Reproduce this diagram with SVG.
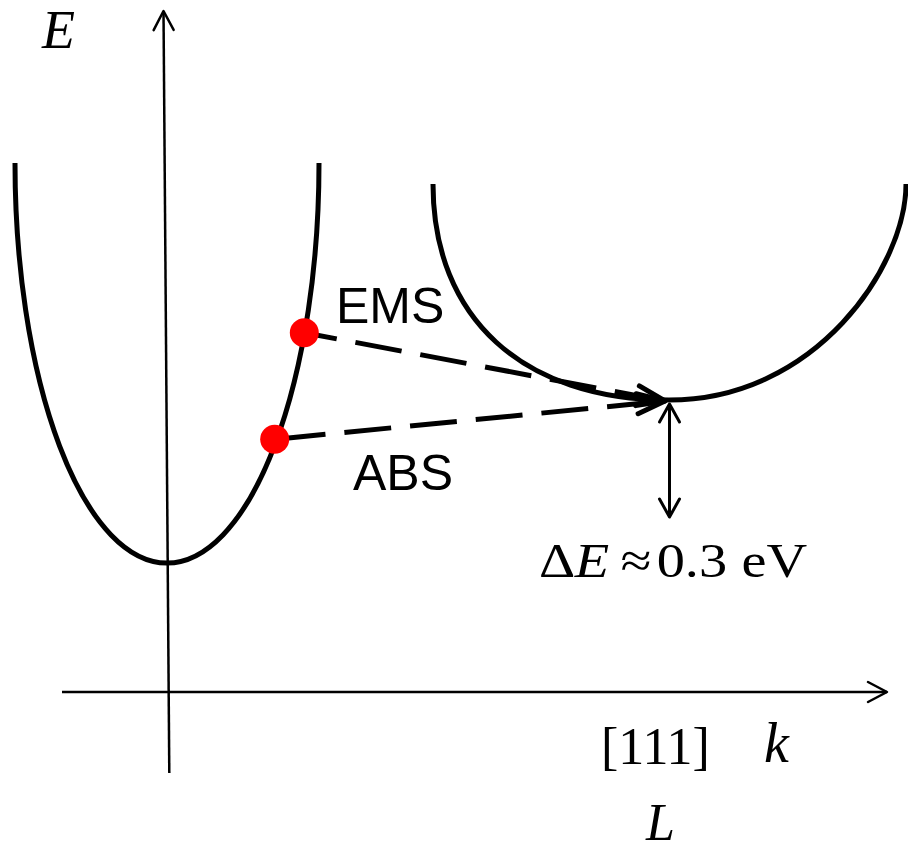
<svg xmlns="http://www.w3.org/2000/svg" width="908" height="852" viewBox="0 0 908 852">
  <style>
    .band { fill: none; stroke: #000; stroke-width: 5; }
    .axis { fill: none; stroke: #000; stroke-width: 2.5; }
    .trans { fill: none; stroke: #000; stroke-width: 5; stroke-dasharray: 47 19; }
    .gap { fill: none; stroke: #000; stroke-width: 3; }
    .dot { fill: #FF0000; }
    .math { font-family: "Liberation Serif", "Times New Roman", serif; fill: #000; }
    .it { font-style: italic; }
    .lbl { font-family: "Liberation Sans", Arial, sans-serif; font-size: 50px; fill: #000; }
  </style>
  <defs>
    <marker id="ah-axis" markerUnits="userSpaceOnUse" orient="auto" refX="0" refY="0" markerWidth="1" markerHeight="1" overflow="visible">
      <path d="M -19 -10 L 0 0 L -19 10" fill="none" stroke="#000" stroke-width="2.5" stroke-linecap="round" stroke-linejoin="round"/>
    </marker>
    <marker id="ah-trans" markerUnits="userSpaceOnUse" orient="auto" refX="0" refY="0" markerWidth="1" markerHeight="1" overflow="visible">
      <path d="M -28 -10 L 0 0 L -28 10" fill="none" stroke="#000" stroke-width="5" stroke-linecap="round" stroke-linejoin="round"/>
    </marker>
    <marker id="ah-gap" markerUnits="userSpaceOnUse" orient="auto-start-reverse" refX="0" refY="0" markerWidth="1" markerHeight="1" overflow="visible">
      <path d="M -18 -10 L 0 0 L -18 10" fill="none" stroke="#000" stroke-width="3" stroke-linecap="round" stroke-linejoin="round"/>
    </marker>
  </defs>

  <g id="axes">
    <line class="axis" x1="169.3" y1="773" x2="163.5" y2="11" marker-end="url(#ah-axis)"/>
    <line class="axis" x1="62" y1="692" x2="887" y2="692" marker-end="url(#ah-axis)"/>
  </g>

  <g id="band-gamma">
    <path class="band" d="M 15 163 A 152 400 0 0 0 319 163"/>
  </g>

  <g id="band-L">
    <path class="band" d="M 433 184 C 433 318 523 400 669 400 C 816 400 906 266 906 184"/>
  </g>

  <g id="connectors">
    <line id="ems-arrow" class="trans" style="stroke-dashoffset:14" x1="304.3" y1="332.7" x2="665" y2="401" marker-end="url(#ah-trans)"/>
    <line id="abs-arrow" class="trans" style="stroke-dashoffset:62" x1="274.7" y1="439.3" x2="665" y2="401" marker-end="url(#ah-trans)"/>
    <line id="gap-arrow" class="gap" x1="669.5" y1="404" x2="669.5" y2="517" marker-start="url(#ah-gap)" marker-end="url(#ah-gap)"/>
  </g>

  <g id="dot-ems">
    <circle class="dot" cx="304.3" cy="332.7" r="14.5"/>
  </g>
  <g id="dot-abs">
    <circle class="dot" cx="274.7" cy="439.3" r="14.5"/>
  </g>

  <g id="labels">
    <text class="math it" x="42" y="48" font-size="54">E</text>
    <text class="lbl" x="336" y="323">EMS</text>
    <text class="lbl" x="353" y="490">ABS</text>
    <text class="math" font-size="49" transform="translate(539,577) scale(1.15,1)"><tspan x="0">Δ</tspan><tspan x="31" class="it">E</tspan><tspan x="70.8">≈</tspan><tspan x="102.3">0.3</tspan><tspan x="176">eV</tspan></text>
    <text class="math" x="601" y="764" font-size="52">[111]</text>
    <text class="math it" x="764" y="762" font-size="56">k</text>
    <text class="math it" x="646" y="840" font-size="52">L</text>
  </g>
</svg>
